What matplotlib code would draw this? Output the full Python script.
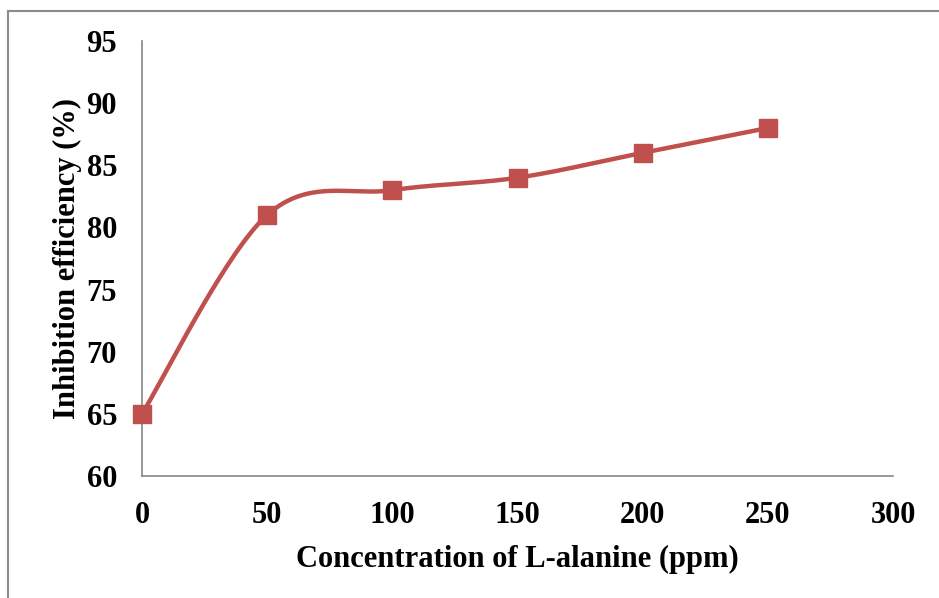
import matplotlib.pyplot as plt
import matplotlib.patches as patches
import numpy as np

# data
conc = [0, 50, 100, 150, 200, 250]
eff = [65, 81, 83, 84, 86, 88]
xticks = [0, 50, 100, 150, 200, 250, 300]
yticks = [60, 65, 70, 75, 80, 85, 90, 95]


def excelSmooth(x, y, n=60):
    # catmull-rom style bezier, like excel's smoothed line
    P = np.column_stack((x, y)).astype(float)
    out = []
    for i in range(len(P) - 1):
        p0 = P[i - 1] if i > 0 else P[i]
        p1 = P[i]
        p2 = P[i + 1]
        p3 = P[i + 2] if i + 2 < len(P) else P[i + 1]
        c1 = p1 + (p2 - p0) / 6.
        c2 = p2 - (p3 - p1) / 6.
        t = np.linspace(0., 1., n)[:, None]
        seg = (1-t)**3*p1 + 3*(1-t)**2*t*c1 + 3*(1-t)*t**2*c2 + t**3*p2
        out.append(seg)
    out = np.vstack(out)
    return out[:, 0], out[:, 1]


plt.rcParams['font.family'] = 'Liberation Serif'
plt.rcParams['font.weight'] = 'bold'

fig = plt.figure(figsize=(9.39, 5.98), dpi=100)
ax = fig.add_axes([142/939, 1-476/598, (893-142)/939, (476-41)/598])

# y scaled so the bezier matches in pixel space (affine so fine)
sx, sy = excelSmooth(np.array(conc)/300., (np.array(eff)-60)/35.)
ax.plot(sx*300., sy*35.+60, color='#C0504D', lw=3.2, solid_capstyle='round', zorder=3, clip_on=False)
ax.plot(conc, eff, 's', color='#C0504D', ms=13, zorder=4, clip_on=False)

ax.set_xlim(0, 300)
ax.set_ylim(60, 95)
ax.set_xticks(xticks)
ax.set_yticks(yticks)
ax.tick_params(length=0, labelsize=22)
ax.tick_params(axis='x', pad=18)
ax.tick_params(axis='y', pad=18)
for s in ['top', 'right']:
    ax.spines[s].set_visible(False)
for s in ['left', 'bottom']:
    ax.spines[s].set_color('#868686')
    ax.spines[s].set_linewidth(1.2)

ax.set_xlabel('Concentration of L-alanine (ppm)', fontsize=22, fontweight='bold', labelpad=11)
ax.set_ylabel('Inhibition efficiency (%)', fontsize=22, fontweight='bold', labelpad=3)

border = patches.Rectangle((8/939, -0.05), 1.0, 1-11/598+0.05, transform=fig.transFigure,
                           fill=False, edgecolor='#8c8c8c', lw=1.5, clip_on=False)
fig.patches.append(border)

fig.savefig('out.png', dpi=100)
